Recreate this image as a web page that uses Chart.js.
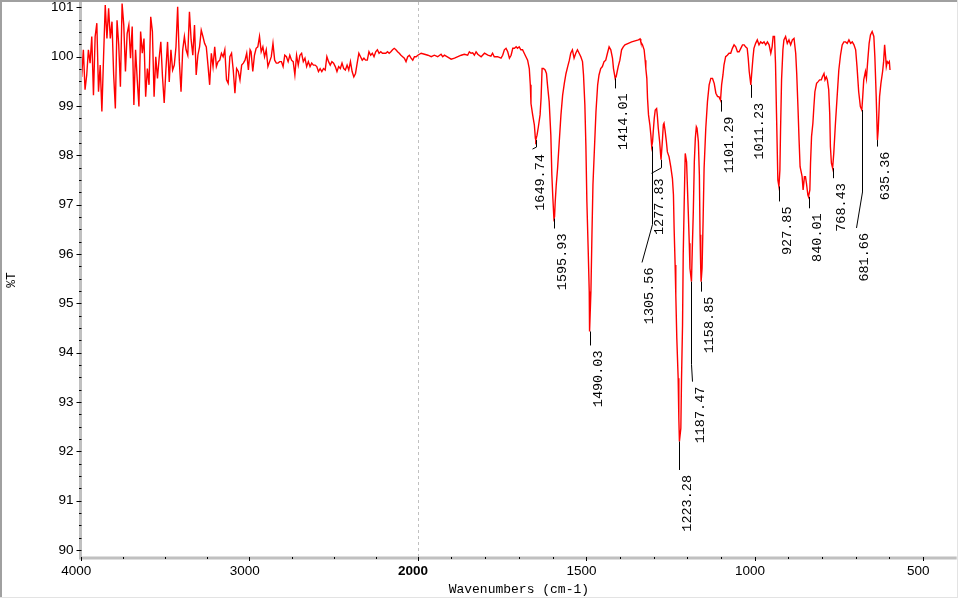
<!DOCTYPE html>
<html><head><meta charset="utf-8">
<script src="https://cdn.jsdelivr.net/npm/chart.js@4.4.0/dist/chart.umd.min.js"></script>
<style>html,body{margin:0;padding:0;background:#fff;}canvas{display:block;}</style>
</head><body>
<canvas id="c" width="960" height="600"></canvas>
<script>
// ---- data: wavenumber (cm-1) and %T ----
const wnA = [4000,3996,3986,3976,3966,3956,3946,3936,3926,3916,3906,3896,3886,3876,3866,3856,3846,3836,3826,3816,3806,3796,3786,3776,3766,3756,3746,3736,3726,3716,3706,3696,3686,3676,3666,3656,3646,3636,3626,3616,3606,3596,3586,3576,3566,3556,3546,3536,3526,3516,3506,3496,3486,3476,3466,3456,3446,3436,3426,3416,3406,3396,3386,3376,3366,3356,3346,3336,3326,3316,3306,3296,3286,3276,3266,3256,3246,3236,3226,3216,3206,3196,3186,3176,3166,3156,3146,3136,3126,3116,3106,3096,3086,3076,3066,3056,3046,3036,3026,3016,3006,2996];
const tA = [99.70,
99.59,100.14,99.33,99.63,100.14,99.87,100.41,99.22,100.41,100.68,
99.29,99.83,98.89,100.00,101.05,100.37,100.98,100.37,100.71,99.63,
98.95,100.74,100.24,99.39,101.08,100.64,99.70,100.47,100.64,99.97,
100.61,99.02,100.14,99.53,98.99,100.51,100.07,100.37,99.19,99.76,
99.43,100.81,100.51,99.19,100.00,99.56,99.97,100.30,99.59,99.06,
99.73,100.30,99.49,100.14,99.73,99.83,100.20,101.01,99.90,99.29,
100.14,100.41,100.14,100.03,100.91,100.34,100.03,100.64,99.63,100.03,
100.20,100.54,100.41,100.27,100.20,99.83,99.43,100.07,99.80,100.20,
99.80,99.90,99.93,100.07,100.00,100.14,99.53,99.46,100.00,100.07,
99.73,99.26,99.76,99.70,99.53,99.83,99.87,99.93,100.07,99.73,
100.14];
const wnB = [2990,2980,2970,2960,2950,2940,2930,2920,2910,2900,2890,2880,2870,2860,2850,2840,2830,2820,2810,2800,2790,2780,2770,2760,2750,2740,2730,2720,2710,2700,2690,2680,2670,2660,2650,2640,2630,2620,2610,2600,2590,2580,2570,2560,2550,2540,2530,2520,2510,2500,2490,2480,2470,2460,2450,2440,2430,2420,2410,2400,2390,2380,2370,2360,2350,2340,2330,2320,2310,2300,2290,2280,2270,2260,2250,2240,2230,2220,2210,2200,2190,2180,2170,2160,2150,2140,2130,2120,2110,2100,2090,2080,2070,2060,2050,2040,2030,2020,2010,2000];
const tB = [
100.10,99.70,100.03,100.17,100.20,100.41,100.10,100.20,100.00,100.14,
99.80,99.90,100.00,100.27,99.93,99.87,99.87,99.90,99.90,99.80,
100.03,100.00,99.90,100.03,99.93,99.90,99.63,100.03,99.83,100.03,
100.07,99.90,99.97,99.80,99.90,99.80,99.87,99.83,99.83,99.80,
99.70,99.76,99.70,99.76,99.73,100.00,99.90,99.83,99.90,99.87,
99.80,99.70,99.80,99.76,99.87,99.76,99.73,99.83,99.73,99.90,
99.70,99.59,99.66,99.87,100.07,100.00,99.93,99.97,99.93,99.93,
100.10,100.03,100.07,100.00,100.10,100.14,100.07,100.10,100.07,100.07,
100.07,100.10,100.07,100.10,100.14,100.17,100.14,100.10,100.07,100.03,
100.00,99.97,99.90,100.00,100.03,99.97,99.93,100.00,100.00,100.03];
const wnC = [1990,1980,1970,1960,1951,1941,1931,1926,1921,1911,1901,1891,1881,1871,1862,1852,1847,1842,1837,1832,1827,1822,1812,1802,1792,1783,1778,1773,1763,
1753,1748,1743,1738,1733,1728,1723,1718,1713,1708,1704,1699,1694,1689,1684,1679,1674,1669,1666,1664,1659,1654,1651,1649.74,1646,1642,1637,1634,1631,1627,1622,1618,1615,1610,1605,1602,1599,1595.93,1594,1592,1589,1585,1580,1575,1570,1565,1560,1555,1550,1546,1541,1536,1531,1526,1521,1516,1511,1508,1504,1501,1498,1494,1491,1490.03,1486,1483,1480,1476,1471,1466,1462,1457,1452,1447,1442,1437,1432,1427,1422,1419,1414.01,1411,1408,1405,1400,1395,1390,1385,1375,1365,1355,1345,1340,
1338,1333,1328,1325,1323,1320,1318,1315,1311,1308,1305.56,1303,1301,1298,1295,1291,1289,1286,1282,1279,1277.83,1274,1271,1269,1266,1262,1259,1254,1249,1244,1241,1239,1236,1234,1231,1227,1225,1223.28,1219,1217,1214,1212,1209,1206,1204,1202,1197,1194,1192,1187.47,1185,1182,1179,1176,1173,1171,1167,1164,1162,1160,1158.85,1156,1153,1150,1145,1140,1135,1130,1125,1120,1115,1110,1106,1101.29,1098,1094,1091,1086,1081,1076,1071,1066,1061,1056,1051,1046,1041,1036,1031,1027,1022,1019,1016,1011.23,1009,1005,1002,997,992,987,982,
977,972,967,962,957,952,948,945,941,938,935,931,927.85,925,923,920,916,913,908,903,898,893,888,883,878,875,871,868,865,861,859,856,852,849,846,842,840.01,836,834,831,827,824,821,816,812,807,802,799,794,791,787,784,780,777,775,772,768.43,765,760,755,750,745,740,735,730,725,720,715,710,705,700,696,691,686,681.66,679,676,671,668,664,660,656,651,646,643,639,635.36,633,629,625,620,617,614,611,609,606,603,600,598];
const tC = [100.07,100.05,100.03,100.00,100.03,100.00,100.05,100.00,100.03,99.99,99.95,99.97,100.00,100.03,100.05,100.03,100.10,100.07,100.08,100.03,100.10,100.05,100.00,100.07,100.03,100.01,100.07,100.00,100.00,
99.97,100.03,100.14,100.17,100.10,99.97,100.03,100.17,100.17,100.20,100.17,100.20,100.14,100.14,100.07,100.00,99.93,99.76,99.43,99.05,98.82,98.62,98.35,98.31,98.41,98.58,98.82,99.16,99.76,99.76,99.73,99.66,99.43,99.09,98.41,97.60,97.13,96.72,96.76,97.06,97.40,97.74,98.28,98.82,99.22,99.46,99.66,99.80,99.93,100.07,100.14,99.97,100.07,100.14,100.07,100.00,99.90,99.63,99.02,98.21,97.06,96.05,95.24,94.43,95.24,96.38,97.40,98.07,98.89,99.43,99.63,99.76,99.80,99.90,99.93,100.07,100.20,100.14,99.97,99.76,99.56,99.60,99.70,99.80,99.93,100.14,100.20,100.24,100.27,100.30,100.32,100.34,100.36,
100.30,100.24,100.14,99.93,99.76,99.56,99.16,98.82,98.62,98.41,98.18,98.28,98.48,98.75,98.92,98.95,98.82,98.55,98.28,98.01,97.91,98.28,98.62,98.65,98.51,98.28,98.07,97.97,97.77,97.53,97.20,96.52,95.78,95.17,94.29,93.48,92.67,92.20,92.47,93.48,94.56,95.98,97.06,98.04,98.04,97.87,96.86,96.22,95.71,95.44,96.12,96.86,97.87,98.35,98.58,98.55,98.28,97.60,96.39,95.71,95.44,95.71,96.66,97.74,98.55,99.09,99.43,99.56,99.56,99.46,99.26,99.19,99.19,99.12,99.43,99.63,99.83,100.00,100.03,100.07,100.07,100.17,100.24,100.20,100.10,100.10,100.17,100.24,100.24,100.20,100.17,99.97,99.70,99.43,99.63,99.97,100.17,100.27,100.34,100.24,100.30,
100.27,100.30,100.24,100.30,100.24,100.07,100.20,100.41,100.41,99.87,98.85,97.50,97.37,97.70,98.51,99.53,100.14,100.34,100.41,100.27,100.34,100.24,100.34,100.37,100.07,99.66,98.92,98.31,97.77,97.64,97.57,97.30,97.57,97.57,97.43,97.20,97.16,97.30,97.84,98.38,98.65,98.99,99.29,99.46,99.49,99.53,99.53,99.59,99.66,99.53,99.59,99.53,99.33,98.85,98.18,97.84,97.74,98.04,98.65,99.19,99.73,100.03,100.24,100.30,100.30,100.27,100.34,100.27,100.30,100.24,100.14,99.80,99.29,98.99,98.92,99.19,99.53,99.70,99.56,99.93,100.27,100.44,100.51,100.41,100.00,99.19,98.31,98.51,99.19,99.46,99.70,99.90,100.24,100.00,99.80,99.90,99.87,99.90,99.73];

// ---- peak picks ----
const peakWn = [1649.74,1595.93,1490.03,1414.01,1305.56,1277.83,1223.28,1187.47,1158.85,1101.29,1011.23,927.85,840.01,768.43,681.66,635.36];
const peakT  = [98.31,96.72,94.43,99.56,98.18,97.91,92.20,95.44,95.44,99.12,99.43,97.37,97.16,97.74,98.92,98.31];

// ---- ticks ----
const xTickValues = [4000,3000,2000,1500,1000,500];
const xMinorValues = [3750,3500,3250,2750,2500,2250,1900,1800,1700,1600,1400,1300,1200,1100,900,800,700,600];
const yTickValues = [90,91,92,93,94,95,96,97,98,99,100,101];

// ---- layout for peak leader lines (pixel offsets from the peak point) ----
const leaderLayout = [
  [[0,7],[-4,9]], [[0,10]], [[0,14]], [[0,10]], [[0,78],[-10.5,116]], [[0,8],[-10,13.5]],
  [[0,28.5]], [[0,83],[1,100]], [[0,10]], [[0,11.5]], [[0,13]], [[0,15]], [[0,11.5]], [[0,10]],
  [[0,82],[-6,118]], [[0,6.5]]
];

const points = [];
[[wnA,tA],[wnB,tB],[wnC,tC]].forEach(([w,t]) => w.forEach((x,i) => points.push({x:x, y:t[i]})));

// FTIR axis: 4000-2000 compressed, below 2000 expanded 2x
class PiecewiseScale extends Chart.LinearScale {
  static id = 'piecewise';
  static defaults = {};
  getPixelForValue(v) {
    const u = v >= 2000 ? 4000 - v : 2000 + 2 * (2000 - v);
    return this.left + this.width * u / 5200;
  }
  getValueForPixel(p) {
    const u = (p - this.left) / this.width * 5200;
    return u <= 2000 ? 4000 - u : 2000 - (u - 2000) / 2;
  }
}
Chart.register(PiecewiseScale);

const MONO = '"Liberation Mono", "DejaVu Sans Mono", monospace';
const SANS = '"Liberation Sans", Arial, sans-serif';

const decor = {
  id: 'decor',
  beforeDatasetsDraw(chart) {
    const {ctx, chartArea, scales:{x}} = chart;
    const px = Math.round(x.getPixelForValue(2000)) + 0.5;
    ctx.save();
    ctx.strokeStyle = '#c0c0c0'; ctx.lineWidth = 1; ctx.setLineDash([3,3]);
    ctx.beginPath(); ctx.moveTo(px, chartArea.top); ctx.lineTo(px, chartArea.bottom); ctx.stroke();
    ctx.restore();
  },
  afterDraw(chart) {
    const {ctx, chartArea, scales:{x, y}} = chart;
    ctx.save();
    // window frame
    ctx.fillStyle = '#a0a0a0';
    ctx.fillRect(0, 0, 957, 2);
    ctx.fillRect(0, 0, 2, 597);
    ctx.fillStyle = '#e3e3e3';
    ctx.fillRect(957, 0, 1, 598);
    ctx.fillRect(0, 597, 958, 1);
    // axis bands
    ctx.fillStyle = '#c0c0c0';
    ctx.fillRect(chartArea.left - 2, 2, 3, chartArea.bottom - 1);
    ctx.fillRect(chartArea.left - 2, chartArea.bottom - 1.5, chartArea.right - chartArea.left + 2, 3);
    // ticks
    ctx.strokeStyle = '#000'; ctx.lineWidth = 1;
    ctx.beginPath();
    yTickValues.forEach(v => { const py = Math.round(y.getPixelForValue(v)) + 0.5; ctx.moveTo(chartArea.left - 4.5, py); ctx.lineTo(chartArea.left + 0.5, py); });
    for (let v = 90.25; v < 101; v += 0.25) {
      if (Math.abs(v - Math.round(v)) < 0.01) continue;
      const py = Math.round(y.getPixelForValue(v)) + 0.5; ctx.moveTo(chartArea.left - 2, py); ctx.lineTo(chartArea.left + 0.5, py);
    }
    xTickValues.forEach(v => { const p = Math.round(x.getPixelForValue(v)) + 0.5; ctx.moveTo(p, chartArea.bottom - 1); ctx.lineTo(p, chartArea.bottom + 3); });
    xMinorValues.forEach(v => { const p = Math.round(x.getPixelForValue(v)) + 0.5; ctx.moveTo(p, chartArea.bottom - 1); ctx.lineTo(p, chartArea.bottom + 1); });
    ctx.stroke();
    // peak labels
    ctx.font = '13.5px ' + MONO;
    ctx.fillStyle = '#000';
    peakWn.forEach((wn, i) => {
      const x0 = Math.round(x.getPixelForValue(wn)) + 0.5;
      const y0 = y.getPixelForValue(peakT[i]);
      let ex = x0, ey = y0;
      ctx.beginPath(); ctx.moveTo(x0, y0);
      leaderLayout[i].forEach(([dx, dy]) => { ex = x0 + dx; ey = y0 + dy; ctx.lineTo(ex, ey); });
      ctx.stroke();
      ctx.save();
      ctx.translate(ex + 1, ey + 5);
      ctx.rotate(-Math.PI / 2);
      ctx.textAlign = 'right'; ctx.textBaseline = 'top';
      ctx.fillText(wn.toFixed(2), 0, 0);
      ctx.restore();
    });
    ctx.restore();
  }
};

new Chart(document.getElementById('c'), {
  type: 'line',
  data: { datasets: [{ data: points, borderColor: '#ff0000', borderWidth: 1.4, pointRadius: 0, tension: 0, fill: false }] },
  options: {
    responsive: false, animation: false, devicePixelRatio: 1, events: [],
    layout: { padding: { left: 0, right: 3.3, top: 2, bottom: 0 } },
    plugins: { legend: { display: false }, tooltip: { enabled: false } },
    scales: {
      x: {
        type: 'piecewise', position: 'bottom', min: 400, max: 4000,
        afterBuildTicks: s => { s.ticks = xTickValues.map(v => ({ value: v })); },
        afterFit: s => { s.height = 42; s.paddingLeft = 0; s.paddingRight = 0; },
        grid: { display: true, drawOnChartArea: false, drawTicks: false },
        border: { display: false },
        ticks: {
          autoSkip: false, maxRotation: 0, minRotation: 0, padding: 5, labelOffset: -4.7, color: '#000',
          font: c => ({ family: SANS, size: 13.5, weight: (c.tick && c.tick.value === 2000) ? 'bold' : 'normal' }),
          callback: v => String(v)
        },
        title: { display: true, text: 'Wavenumbers (cm-1)', color: '#000', font: { family: MONO, size: 13 }, padding: { top: 0, bottom: 2.2 } }
      },
      y: {
        type: 'linear', position: 'left', min: 89.838, max: 101.109,
        afterBuildTicks: s => { s.ticks = yTickValues.map(v => ({ value: v })); },
        afterFit: s => { s.width = 81; s.paddingTop = 0; s.paddingBottom = 0; },
        grid: { display: true, drawOnChartArea: false, drawTicks: false },
        border: { display: false },
        ticks: { autoSkip: false, padding: 7.5, color: '#000', font: { family: SANS, size: 13.5 }, callback: v => String(v) },
        title: { display: true, text: '%T', color: '#000', font: { family: MONO, size: 13 }, padding: { top: 4.2, bottom: 0 } }
      }
    }
  },
  plugins: [decor]
});
</script>
</body></html>
